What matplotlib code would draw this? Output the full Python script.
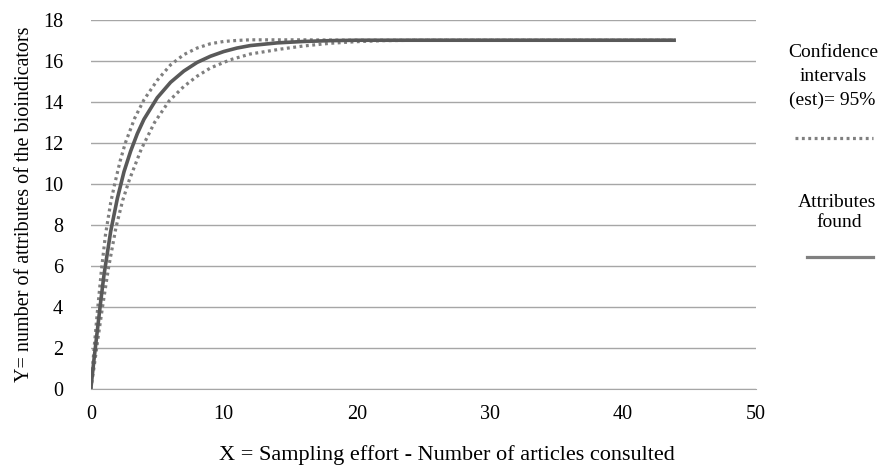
import matplotlib.pyplot as plt
from matplotlib.lines import Line2D

x_media = [0, 0.25, 0.5, 0.75, 1, 1.5, 2, 2.5, 3, 3.5, 4, 5, 6, 7, 8, 9, 10, 11, 12,
           14, 16, 18, 20, 25, 30, 35, 40, 44]
y_media = [0, 1.5, 2.9, 4.3, 5.6, 7.7, 9.3, 10.6, 11.6, 12.45, 13.15, 14.2, 14.95, 15.5,
           15.92, 16.22, 16.45, 16.62, 16.74, 16.87, 16.94, 16.98, 17.0, 17.0, 17.0, 17.0, 17.0, 17.0]

x_sup = [0, 0.25, 0.5, 0.8, 1.1, 1.5, 1.8, 2.2, 2.6, 3.3, 4, 5, 6, 7, 8, 9, 10, 11, 12,
         14, 16, 18, 20, 25, 30, 35, 40, 44]
y_sup = [0, 2.0, 3.8, 5.8, 7.5, 9.1, 10.0, 11.1, 12.0, 13.2, 14.1, 15.05, 15.8, 16.3, 16.62,
         16.83, 16.94, 16.99, 17.02, 17.02, 17.02, 17.01, 17.0, 17.0, 17.0, 17.0, 17.0, 17.0]

x_inf = [0, 0.25, 0.5, 0.88, 1.33, 1.9, 2.4, 2.9, 3.8, 4.8, 5.9, 7, 8, 9, 10.5, 12, 14.3,
         16, 18, 20, 22, 25, 30, 35, 40, 44]
y_inf = [0, 1.1, 2.3, 4.0, 5.9, 7.9, 9.2, 10.2, 11.7, 13.0, 14.05, 14.75, 15.25, 15.65, 16.05,
         16.33, 16.57, 16.72, 16.85, 16.93, 16.98, 17.0, 17.0, 17.0, 17.0, 17.0]

xticks = [0, 10, 20, 30, 40, 50]
yticks = [0, 2, 4, 6, 8, 10, 12, 14, 16, 18]

plt.rcParams['font.family'] = ['Liberation Serif', 'DejaVu Serif']

fig = plt.figure(figsize=(8.9, 4.69), dpi=100)
ax = fig.add_axes([0.102, 0.170, 0.747, 0.788])

cinza_grade = '#a6a6a6'
pontilhado = dict(color='#7f7f7f', lw=2.3, linestyle=(0, (0.9, 1.1)))

ax.plot(x_sup, y_sup, **pontilhado)
ax.plot(x_inf, y_inf, **pontilhado)
ax.plot(x_media, y_media, color='#595959', lw=2.6, solid_capstyle='butt')

ax.set_xlim(0, 50)
ax.set_ylim(0, 18)
ax.set_xticks(xticks)
ax.set_yticks(yticks)
ax.yaxis.grid(True, color=cinza_grade, lw=1)
ax.set_axisbelow(True)
for lado in ['top', 'right', 'left']:
    ax.spines[lado].set_visible(False)
ax.spines['bottom'].set_color(cinza_grade)
ax.tick_params(length=0, labelsize=14.5)
ax.tick_params(axis='y', pad=20)
ax.tick_params(axis='x', pad=11)

ax.set_xlabel('X = Sampling effort - Number of articles consulted', fontsize=16)
ax.xaxis.set_label_coords(0.535, -0.15)
ax.set_ylabel('Y= number of attributes of the bioindicators', fontsize=14.5, labelpad=6)

# legenda desenhada à mão, como no original
fig.text(0.936, 0.889, 'Confidence', ha='center', va='center', fontsize=14)
fig.text(0.936, 0.836, 'intervals', ha='center', va='center', fontsize=14)
fig.text(0.935, 0.787, '(est)= 95%', ha='center', va='center', fontsize=14)
fig.add_artist(Line2D([0.893, 0.981], [0.706, 0.706], transform=fig.transFigure, **pontilhado))
fig.text(0.940, 0.569, 'Attributes', ha='center', va='center', fontsize=14)
fig.text(0.943, 0.525, 'found', ha='center', va='center', fontsize=14)
fig.add_artist(Line2D([0.907, 0.981], [0.452, 0.452], transform=fig.transFigure,
                      color='#808080', lw=2.3))

fig.savefig('out.png', dpi=100)
